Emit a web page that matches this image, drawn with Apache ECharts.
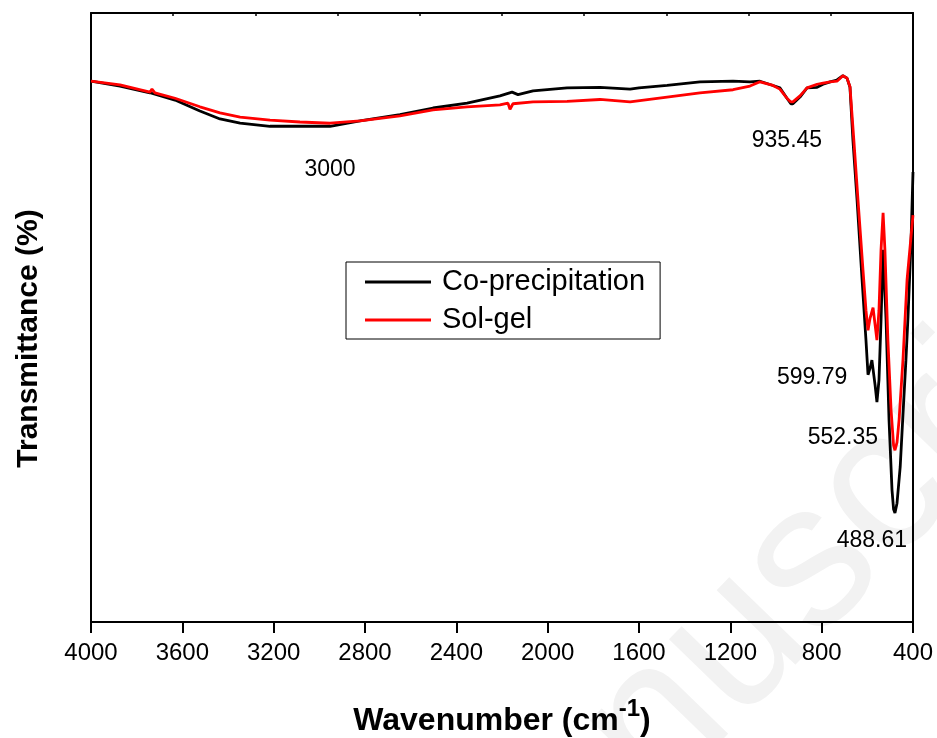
<!DOCTYPE html>
<html>
<head>
<meta charset="utf-8">
<script src="https://cdn.jsdelivr.net/npm/echarts@6/dist/echarts.min.js"></script>
<style>html,body{margin:0;padding:0;background:#fff}#c{width:937px;height:738px}</style>
</head>
<body>
<div id="c"></div>
<script>
// Wavenumber (cm-1) and transmittance (%)
var wnCo = [4000,3873,3742,3632,3523,3435,3347,3216,3085,2953,2822,2647,2502,2353,2209,2156,2130,2064,1915,1771,1639,1600,1477,1333,1188,1114,1070,1013,983,952,935,926,895,864,820,794,763,733,707,689,676,663,645,623,606,597,588,580,566,558,549,540,531,518,505,492,485,479,470,456,444,431,422,409,400];
var tCo  = [88.8,88.0,86.9,85.7,83.9,82.6,81.9,81.4,81.4,81.4,82.3,83.3,84.4,85.2,86.4,87.0,86.6,87.2,87.7,87.8,87.5,87.7,88.1,88.7,88.8,88.7,88.8,88.1,87.7,86.0,85.1,85.1,86.2,87.7,87.8,88.3,88.7,89.0,89.7,89.3,87.8,79.1,69.3,56.2,46.3,40.6,41.7,43.0,38.9,36.1,39.7,49.6,61.1,49.6,33.2,21.7,18.5,17.9,19.5,25.5,34.0,43.0,50.0,62.0,73.9];

var wnSol = [4000,3873,3742,3733,3720,3632,3523,3435,3347,3216,3085,2953,2822,2647,2502,2353,2209,2174,2165,2152,2064,1915,1771,1639,1477,1333,1188,1114,1070,1013,983,952,935,926,895,864,820,794,763,733,707,689,676,659,641,619,606,597,588,575,566,558,549,540,531,523,510,496,485,479,470,461,444,426,400];
var tSol  = [88.8,88.2,87.0,87.5,86.9,86.0,84.6,83.6,82.9,82.4,82.1,81.9,82.3,83.1,84.1,84.6,84.9,85.2,84.2,85.1,85.4,85.5,85.8,85.4,86.2,86.9,87.4,88.0,88.7,88.1,87.5,86.0,85.4,85.4,86.4,87.7,88.3,88.5,88.7,88.8,89.7,89.3,87.9,79.1,69.3,57.8,51.2,47.9,49.9,51.6,48.8,46.3,51.2,61.1,67.2,61.1,46.3,34.8,29.0,28.2,29.5,33.2,43.0,56.2,66.8];

// Peak annotations: [wavenumber, transmittance, text]
var annWn   = [2953, 952, 842, 707, 580];
var annT    = [74.2, 79.1, 40.1, 30.2, 13.3];
var annText = ['3000', '935.45', '599.79', '552.35', '488.61'];

var xTicks = [400, 4000, 400]; // min, max, interval

function zip(a, b) { var r = []; for (var i = 0; i < a.length; i++) r.push([a[i], b[i]]); return r; }
var annData = annWn.map(function (w, i) { return [w, annT[i], annText[i]]; });

var FONT = 'Liberation Sans, Arial, sans-serif';
var chart = echarts.init(document.getElementById('c'));
chart.setOption({
  backgroundColor: '#fff',
  animation: false,
  graphic: [{
    type: 'text', z: -10, silent: true,
    x: 419, y: 971, rotation: 0.8,
    style: { text: 'Manuscript', font: '205px ' + FONT, fill: '#f2f2f2', textVerticalAlign: 'middle', textAlign: 'left' }
  }],
  grid: { left: 91, right: 24, top: 13, bottom: 116, containLabel: false, outerBoundsMode: 'none' },
  legend: {
    data: ['Co-precipitation', 'Sol-gel'],
    orient: 'vertical', left: 346, top: 262,
    backgroundColor: '#fff', borderColor: '#000', borderWidth: 1,
    padding: [1, 15, 0, 19], itemGap: 0, itemWidth: 66, itemHeight: 3, icon: 'rect',
    textStyle: { fontFamily: FONT, fontSize: 29, lineHeight: 38, color: '#000', padding: [0, 0, 0, 6] }
  },
  xAxis: [{
    type: 'value', inverse: true, min: xTicks[0], max: xTicks[1], interval: xTicks[2],
    position: 'bottom',
    axisLine: { show: true, onZero: false, lineStyle: { color: '#000', width: 2 } },
    axisTick: { show: true, inside: false, length: 11, lineStyle: { color: '#000', width: 2 } },
    axisLabel: { fontFamily: FONT, fontSize: 24, color: '#000', margin: 19, formatter: function (v) { return String(v); } },
    splitLine: { show: false },
    name: '{a|Wavenumber (cm}{s|-1}{a|)}', nameLocation: 'middle', nameGap: 75,
    nameTextStyle: {
      rich: {
        a: { fontFamily: FONT, fontSize: 32, fontWeight: 'bold', color: '#000', lineHeight: 40, verticalAlign: 'bottom' },
        s: { fontFamily: FONT, fontSize: 24, fontWeight: 'bold', color: '#000', lineHeight: 40, verticalAlign: 'top', padding: [0, 0, 16, 0] }
      }
    }
  }, {
    type: 'value', min: 0, max: 10, interval: 1, position: 'top',
    axisLine: { show: true, onZero: false, lineStyle: { color: '#000', width: 2 } },
    axisTick: { show: true, inside: true, length: 3, lineStyle: { color: '#000', width: 1.5 } },
    axisLabel: { show: false }, splitLine: { show: false }
  }],
  yAxis: [{
    type: 'value', min: 0, max: 100, position: 'left',
    axisLine: { show: true, onZero: false, lineStyle: { color: '#000', width: 2 } },
    axisTick: { show: false }, axisLabel: { show: false }, splitLine: { show: false },
    name: 'Transmittance (%)', nameLocation: 'middle', nameGap: 47,
    nameTextStyle: { fontFamily: FONT, fontSize: 30, fontWeight: 'bold', color: '#000', padding: [0, 42, 0, 0] }
  }, {
    type: 'value', min: 0, max: 100, position: 'right',
    axisLine: { show: true, onZero: false, lineStyle: { color: '#000', width: 2 } },
    axisTick: { show: false }, axisLabel: { show: false }, splitLine: { show: false }
  }],
  series: [{
    name: 'Co-precipitation', type: 'line', data: zip(wnCo, tCo), showSymbol: false, symbol: 'none',
    color: '#000', lineStyle: { color: '#000', width: 2.8 }, z: 3
  }, {
    name: 'Sol-gel', type: 'line', data: zip(wnSol, tSol), showSymbol: false, symbol: 'none',
    color: '#ff0000', lineStyle: { color: '#ff0000', width: 2.8 }, z: 4
  }, {
    name: 'peaks', type: 'scatter', data: annData, symbolSize: 0,
    itemStyle: { color: '#000', opacity: 1 }, z: 5, silent: true,
    label: {
      show: true, position: 'inside', formatter: function (p) { return p.value[2]; },
      fontFamily: FONT, fontSize: 23, color: '#000', opacity: 1, textBorderWidth: 0
    }
  }]
});
</script>
</body>
</html>
